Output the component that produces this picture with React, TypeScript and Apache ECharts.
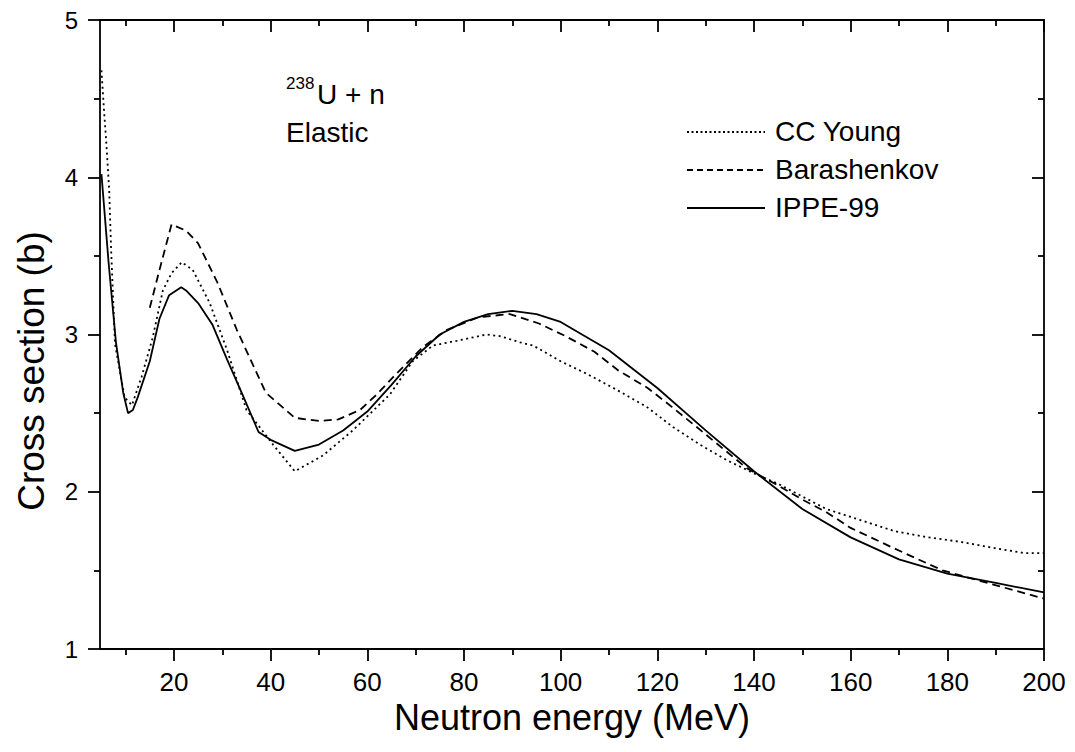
import React, { useEffect, useRef } from "react";
import * as echarts from "echarts";

// ---- Data ----
const xMajorTicks = [20, 40, 60, 80, 100, 120, 140, 160, 180, 200];
const xMinorTicks = [10, 30, 50, 70, 90, 110, 130, 150, 170, 190];

const ccYoungX = [5, 5.5, 6, 6.6, 7, 7.8, 9.8, 11.3, 13.3, 15.6, 17.7, 19.5, 21.6, 23.9, 27.4, 31, 35, 40.5, 45, 50.8, 57, 64.7, 69.4, 73.6, 78.5, 84.7, 87.4, 91.6, 94.3, 100, 105.4, 110.9, 117.8, 123.3, 128.8, 134.4, 139.8, 145, 150, 155, 162, 169, 176, 183, 190, 196, 200];
const ccYoungY = [4.68, 4.44, 4.22, 3.92, 3.54, 2.94, 2.6, 2.55, 2.73, 2.98, 3.28, 3.39, 3.46, 3.41, 3.2, 2.9, 2.52, 2.3, 2.13, 2.23, 2.39, 2.62, 2.83, 2.93, 2.96, 3.0, 2.99, 2.95, 2.93, 2.83, 2.75, 2.66, 2.54, 2.41, 2.3, 2.2, 2.12, 2.05, 1.97, 1.89, 1.82, 1.75, 1.71, 1.68, 1.64, 1.61, 1.61];

const barashenkovX = [15, 17, 19.5, 22.5, 25, 29, 33, 39, 45, 50, 54, 58.5, 62, 66, 71.5, 76.5, 83, 89.5, 95.5, 101, 107, 112, 118, 123, 129, 138.5, 145, 150, 155, 160, 169, 179, 189.5, 200];
const barashenkovY = [3.17, 3.41, 3.7, 3.66, 3.58, 3.33, 3.03, 2.63, 2.47, 2.45, 2.46, 2.52, 2.62, 2.75, 2.92, 3.03, 3.11, 3.13, 3.07, 2.99, 2.89, 2.77, 2.66, 2.54, 2.39, 2.15, 2.04, 1.95, 1.87, 1.77, 1.64, 1.5, 1.41, 1.32];

const ippeX = [5, 6.5, 8, 9.5, 10.5, 11.5, 12.5, 15, 17, 19, 21.5, 22.5, 25, 28, 31, 34, 37.5, 40, 45, 50, 55, 60, 65, 70, 75, 80, 85, 90, 95, 100, 110, 120, 130, 140, 150, 160, 170, 180, 190, 200];
const ippeY = [4.02, 3.45, 2.95, 2.63, 2.5, 2.52, 2.6, 2.83, 3.1, 3.25, 3.3, 3.28, 3.2, 3.06, 2.84, 2.63, 2.38, 2.33, 2.26, 2.3, 2.39, 2.51, 2.68, 2.86, 3.0, 3.08, 3.13, 3.15, 3.13, 3.08, 2.9, 2.66, 2.39, 2.13, 1.89, 1.71, 1.57, 1.48, 1.42, 1.36];

const seriesNames = ["CC Young", "Barashenkov", "IPPE-99"];

const zip = (xs: number[], ys: number[]) => xs.map((x, i) => [x, ys[i]]);

const FONT = "'Liberation Sans', Arial, Helvetica, sans-serif";
const X_MIN = 4.7;
const X_MAX = 200;

const DOTTED = [2, 3.5];
const DASHED = [8, 5];
const legendDashes = [[2, 2.5], [6, 4], []];

export default function App() {
  const ref = useRef<HTMLDivElement>(null);

  useEffect(() => {
    if (!ref.current) return;
    const chart = echarts.init(ref.current, undefined, { renderer: "svg" });

    const axisLine = { show: true, lineStyle: { color: "#000", width: 1.8 } };
    const tickLine = { color: "#000", width: 1.8 };
    const baseX = {
      type: "value",
      min: X_MIN,
      max: X_MAX,
      splitLine: { show: false },
    };

    const legendY = [131, 169, 207];
    const legendGraphics: any[] = [];
    seriesNames.forEach((name, i) => {
      legendGraphics.push({
        type: "line",
        shape: { x1: 687, y1: legendY[i] + 1, x2: 765, y2: legendY[i] + 1 },
        style: { stroke: "#000", lineWidth: 1.8, lineDash: legendDashes[i].length ? legendDashes[i] : null },
      });
      legendGraphics.push({
        type: "text",
        x: 775,
        y: legendY[i],
        style: {
          text: name,
          font: `28px ${FONT}`,
          fill: "#000",
          align: "left",
          verticalAlign: "middle",
        },
      });
    });

    const option: any = {
      animation: false,
      backgroundColor: "#fff",
      textStyle: { fontFamily: FONT, color: "#000" },
      grid: { left: 100, right: 31, top: 20, bottom: 103, containLabel: false },
      xAxis: [
        {
          ...baseX,
          position: "bottom",
          axisLine,
          axisTick: { show: true, customValues: xMajorTicks, length: 12, lineStyle: tickLine },
          axisLabel: {
            show: true,
            customValues: xMajorTicks,
            fontSize: 26,
            color: "#000",
            margin: 20,
            fontFamily: FONT,
          },
          name: "Neutron energy (MeV)",
          nameLocation: "middle",
          nameGap: 50,
          nameTextStyle: { fontSize: 36, color: "#000", fontFamily: FONT },
        },
        {
          ...baseX,
          position: "bottom",
          axisLine: { show: false },
          axisTick: { show: true, customValues: xMinorTicks, length: 6, lineStyle: tickLine },
          axisLabel: { show: false },
        },
        {
          ...baseX,
          position: "top",
          axisLine,
          axisTick: { show: true, inside: true, customValues: xMajorTicks, length: 12, lineStyle: tickLine },
          axisLabel: { show: false },
        },
        {
          ...baseX,
          position: "top",
          axisLine: { show: false },
          axisTick: { show: true, inside: true, customValues: xMinorTicks, length: 6, lineStyle: tickLine },
          axisLabel: { show: false },
        },
      ],
      yAxis: [
        {
          type: "value",
          position: "left",
          min: 1,
          max: 5,
          interval: 1,
          axisLine,
          axisTick: { show: true, length: 12, lineStyle: tickLine },
          minorTick: { show: true, splitNumber: 2, length: 6, lineStyle: tickLine },
          splitLine: { show: false },
          axisLabel: { fontSize: 24, color: "#000", margin: 22, fontFamily: FONT },
        },
        {
          type: "value",
          position: "right",
          min: 1,
          max: 5,
          interval: 1,
          axisLine,
          axisTick: { show: true, inside: true, length: 12, lineStyle: tickLine },
          minorTick: { show: true, splitNumber: 2, length: 6, lineStyle: tickLine },
          splitLine: { show: false },
          axisLabel: { show: false },
        },
      ],
      series: [
        {
          name: seriesNames[0],
          type: "line",
          data: zip(ccYoungX, ccYoungY),
          symbol: "none",
          showSymbol: false,
          color: "#000",
          lineStyle: { color: "#000", width: 1.8, type: DOTTED },
        },
        {
          name: seriesNames[1],
          type: "line",
          data: zip(barashenkovX, barashenkovY),
          symbol: "none",
          showSymbol: false,
          color: "#000",
          lineStyle: { color: "#000", width: 1.8, type: DASHED },
        },
        {
          name: seriesNames[2],
          type: "line",
          data: zip(ippeX, ippeY),
          symbol: "none",
          showSymbol: false,
          color: "#000",
          lineStyle: { color: "#000", width: 1.8, type: "solid" },
        },
      ],
      graphic: [
        {
          type: "text",
          x: 31,
          y: 371,
          rotation: Math.PI / 2,
          style: {
            text: "Cross section (b)",
            font: `37px ${FONT}`,
            fill: "#000",
            align: "center",
            verticalAlign: "middle",
          },
        },
        {
          type: "text",
          x: 286,
          y: 75,
          style: { text: "238", font: `17px ${FONT}`, fill: "#000", align: "left", verticalAlign: "top" },
        },
        {
          type: "text",
          x: 317,
          y: 80,
          style: { text: "U + n", font: `28px ${FONT}`, fill: "#000", align: "left", verticalAlign: "top" },
        },
        {
          type: "text",
          x: 286,
          y: 118,
          style: { text: "Elastic", font: `28px ${FONT}`, fill: "#000", align: "left", verticalAlign: "top" },
        },
        ...legendGraphics,
      ],
    };

    chart.setOption(option);
    return () => chart.dispose();
  }, []);

  return (
    <div
      ref={ref}
      style={{ position: "absolute", left: 0, top: 0, width: 1075, height: 752, background: "#fff" }}
    />
  );
}
